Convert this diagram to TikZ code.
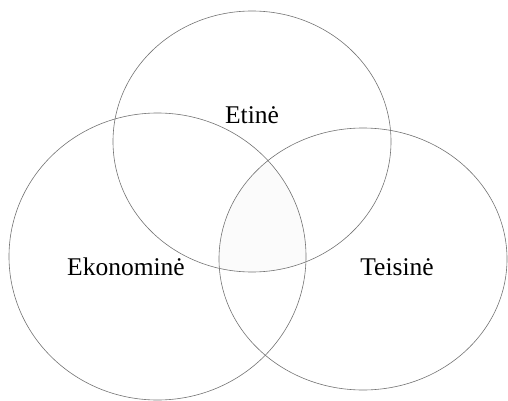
\documentclass[tikz,border=0pt]{standalone}
\usepackage{fontspec}
\setmainfont{Liberation Serif}
\begin{document}
\begin{tikzpicture}[x=1pt,y=-1pt,
  ring/.style={draw=black!55,line width=0.6pt},
  lbl/.style={font=\fontsize{25.5}{30}\selectfont,text=black}]
\useasboundingbox (0,0) rectangle (508,401);
\begin{scope}
  \clip (252,141.5) ellipse [x radius=139,y radius=130.5];
  \clip (157.5,256.5) ellipse [x radius=148.5,y radius=143.5];
  \fill[black!1.5] (363,259) ellipse [x radius=144,y radius=131];
\end{scope}
\draw[ring] (252,141.5) ellipse [x radius=139,y radius=130.5];
\draw[ring] (157.5,256.5) ellipse [x radius=148.5,y radius=143.5];
\draw[ring] (363,259) ellipse [x radius=144,y radius=131];
\node[lbl] (et) at (252,115) {Etinė};
\node[lbl] (ek) at (126,267) {Ekonominė};
\node[lbl] (te) at (397,267) {Teisinė};
\end{tikzpicture}
\end{document}
